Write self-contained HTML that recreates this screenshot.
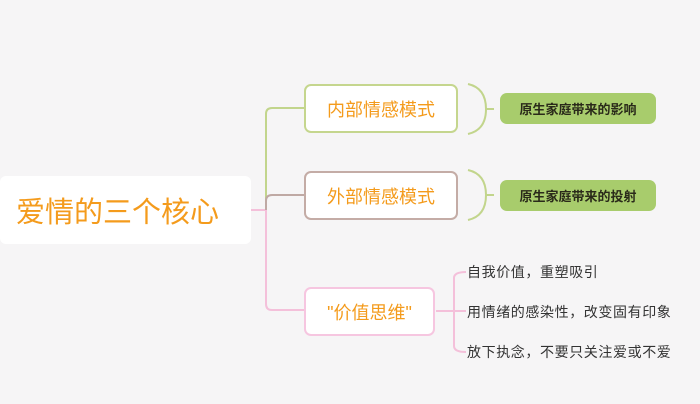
<html><head><style>
body{margin:0;width:700px;height:404px;background:#f6f5f6;position:relative;overflow:hidden;font-family:"Liberation Sans","Noto Sans CJK SC",sans-serif}
.a{position:absolute;box-sizing:border-box;display:flex;align-items:center;justify-content:center}
.n{background:#fff;border-radius:7px;border:2px solid;color:#f49b1c;font-size:18px}
.p{background:#a8cc6c;border-radius:7px;color:#2a2a1a;font-weight:bold;font-size:13px}
.t{position:absolute;font-size:14px;letter-spacing:0.6px;color:#333;left:467px}
</style></head><body>
<svg width="700" height="404" style="position:absolute;left:0;top:0" fill="none" stroke-width="2">
<path d="M250 210H266" stroke="#f4c0da"/>
<path d="M306 108H272Q266 108 266 114V210" stroke="#c2d58c"/>
<path d="M306 195H272Q266 195 266 201V210" stroke="#bfa9a4"/>
<path d="M266 210V304Q266 310 272 310H306" stroke="#f4c0da"/>
<path d="M468 84Q486 88 486 109Q486 130 468 134M486 109H494" stroke="#c2d58c"/>
<path d="M468 170Q486 174 486 195Q486 216 468 220M486 195H494" stroke="#c2d58c"/>
<path d="M466 272Q454 272 454 278V346Q454 352 466 352M436 311H466" stroke="#f4c0da"/>
</svg>
<div class="a" style="left:0;top:176px;width:251px;height:68px;background:#fff;border-radius:6px;color:#f49b1c;font-size:29px;justify-content:flex-start;padding-left:16px">爱情的三个核心</div>
<div class="a n" style="left:304px;top:84px;width:154px;height:49px;border-color:#c5d68e">内部情感模式</div>
<div class="a n" style="left:304px;top:171px;width:154px;height:49px;border-color:#c4aca6">外部情感模式</div>
<div class="a n" style="left:304px;top:287px;width:131px;height:49px;border-color:#f6c6e0">"价值思维"</div>
<div class="a p" style="left:500px;top:93px;width:156px;height:31px">原生家庭带来的影响</div>
<div class="a p" style="left:500px;top:180px;width:156px;height:31px">原生家庭带来的投射</div>
<div class="t" style="top:262px">自我价值，重塑吸引</div>
<div class="t" style="top:302px">用情绪的感染性，改变固有印象</div>
<div class="t" style="top:342px">放下执念，不要只关注爱或不爱</div>
</body></html>
